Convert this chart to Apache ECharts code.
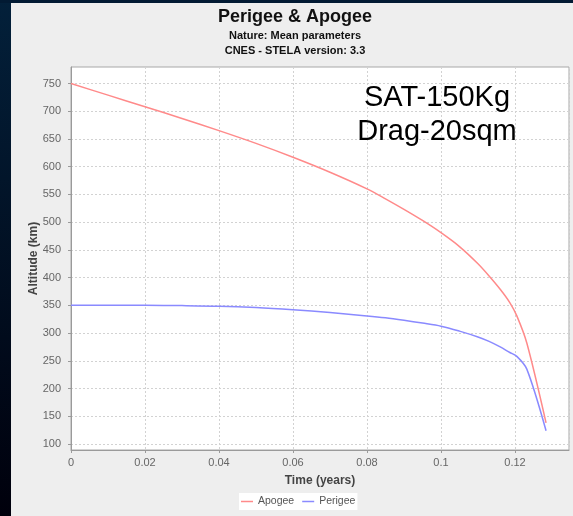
<!DOCTYPE html>
<html>
<head>
<meta charset="utf-8">
<script src="https://cdn.jsdelivr.net/npm/echarts@6/dist/echarts.min.js"></script>
<style>
  html, body { margin: 0; padding: 0; background: #021529; }
  #chart { width: 573px; height: 516px; }
</style>
</head>
<body>
<div id="chart"></div>
<script>
// Orbit decay of the satellite: mean apogee / perigee altitude versus time
const timeYears = [0, 0.01, 0.02, 0.03, 0.04, 0.05, 0.06, 0.07, 0.08, 0.085, 0.09, 0.095, 0.1, 0.105, 0.11, 0.113, 0.116, 0.1186, 0.1205, 0.1232, 0.1284];
const apogeeKm  = [750, 729, 708, 687, 665, 642, 617, 590, 560, 542, 523, 503, 481, 456, 425, 403, 379, 355, 331, 282, 138];
const perigeeKm = [350, 350, 350, 349.5, 348.5, 346, 342, 337, 331, 327.5, 323, 318, 312.5, 303.5, 293, 285, 275, 265, 258, 235, 124];

const seriesNames = ['Apogee', 'Perigee'];
const titleLines = ['Perigee & Apogee', 'Nature: Mean parameters', 'CNES - STELA version: 3.3'];
const noteLines = ['SAT-150Kg', 'Drag-20sqm'];

const FONT = '"Liberation Sans", Arial, sans-serif';
const gridColor = '#d2d2d2';
const axisColor = '#9a9a9a';
const labelColor = '#666';

const pairs = (ys) => timeYears.map((t, i) => [t, ys[i]]);

const chart = echarts.init(document.getElementById('chart'), null, { renderer: 'canvas' });

chart.setOption({
  animation: false,
  backgroundColor: '#eeeeee',
  textStyle: { fontFamily: FONT },
  grid: [
    // plot frame (white area, vertical grid lines, axis lines)
    { left: 71, right: 4, top: 67, bottom: 66, show: true, backgroundColor: '#ffffff',
      borderColor: '#a8a8a8', borderWidth: 1 },
    // data area: 100 .. 750 km
    { left: 71, right: 4, top: 83.5, bottom: 72 }
  ],
  xAxis: [
    { gridIndex: 0, type: 'value', min: 0, max: 0.1346, interval: 0.02, offset: 3,
      axisLine: { show: true, lineStyle: { color: axisColor } },
      axisTick: { show: true, length: 3, lineStyle: { color: axisColor } },
      axisLabel: { color: labelColor, fontSize: 11, margin: 4, showMaxLabel: false,
        formatter: (v) => String(+v.toFixed(2)) },
      splitLine: { show: true, lineStyle: { color: gridColor, type: [2, 2] } },
      name: 'Time (years)', nameLocation: 'middle', nameGap: 22,
      nameTextStyle: { color: '#444', fontSize: 12, fontWeight: 'bold', fontFamily: FONT } },
    { gridIndex: 1, type: 'value', min: 0, max: 0.1346, show: false }
  ],
  yAxis: [
    { gridIndex: 0, type: 'value', min: 0, max: 1, offset: 3,
      axisLine: { show: true, lineStyle: { color: axisColor } },
      axisTick: { show: false }, axisLabel: { show: false }, splitLine: { show: false },
      name: 'Altitude (km)', nameLocation: 'middle', nameGap: 28,
      nameTextStyle: { color: '#444', fontSize: 12, fontWeight: 'bold', fontFamily: FONT } },
    { gridIndex: 1, type: 'value', min: 100, max: 750, interval: 50, offset: 3,
      axisLine: { show: false },
      axisTick: { show: true, length: 3, lineStyle: { color: axisColor } },
      axisLabel: { color: labelColor, fontSize: 11, margin: 7 },
      splitLine: { show: true, lineStyle: { color: gridColor, type: [2, 2] } } }
  ],
  legend: {
    left: 239, top: 493, padding: [3, 2], backgroundColor: '#ffffff',
    icon: 'rect', itemWidth: 12, itemHeight: 1.5, itemGap: 8,
    textStyle: { fontSize: 10.5, color: '#555', fontFamily: FONT },
    data: seriesNames
  },
  series: [
    { name: seriesNames[0], type: 'line', xAxisIndex: 1, yAxisIndex: 1, data: pairs(apogeeKm),
      symbol: 'none', smooth: 0.3, color: '#ff8a8a', lineStyle: { width: 1.5 } },
    { name: seriesNames[1], type: 'line', xAxisIndex: 1, yAxisIndex: 1, data: pairs(perigeeKm),
      symbol: 'none', smooth: 0.3, color: '#8a8aff', lineStyle: { width: 1.5 } }
  ],
  graphic: [
    // dark surround at the left and top edges
    { type: 'rect', left: 0, top: 0, silent: true, z: 100,
      shape: { width: 11, height: 516 },
      style: { fill: new echarts.graphic.LinearGradient(0, 0, 0, 1, [
        { offset: 0, color: '#03203a' }, { offset: 1, color: '#00000c' }]) } },
    { type: 'rect', left: 0, top: 0, silent: true, z: 100,
      shape: { width: 573, height: 3 }, style: { fill: '#021a33' } },
    // titles
    { type: 'text', x: 295, y: 17, silent: true,
      style: { text: titleLines[0], fill: '#111', font: 'bold 18px ' + FONT,
        textAlign: 'center', textVerticalAlign: 'middle' } },
    { type: 'text', x: 295, y: 36, silent: true,
      style: { text: titleLines[1], fill: '#111', font: 'bold 11px ' + FONT,
        textAlign: 'center', textVerticalAlign: 'middle' } },
    { type: 'text', x: 295, y: 51, silent: true,
      style: { text: titleLines[2], fill: '#111', font: 'bold 11px ' + FONT,
        textAlign: 'center', textVerticalAlign: 'middle' } },
    // satellite note
    { type: 'text', x: 437, y: 98, silent: true, z: 50,
      style: { text: noteLines[0], fill: '#000', font: '29px ' + FONT,
        textAlign: 'center', textVerticalAlign: 'middle' } },
    { type: 'text', x: 437, y: 132, silent: true, z: 50,
      style: { text: noteLines[1], fill: '#000', font: '29px ' + FONT,
        textAlign: 'center', textVerticalAlign: 'middle' } }
  ]
});
</script>
</body>
</html>
